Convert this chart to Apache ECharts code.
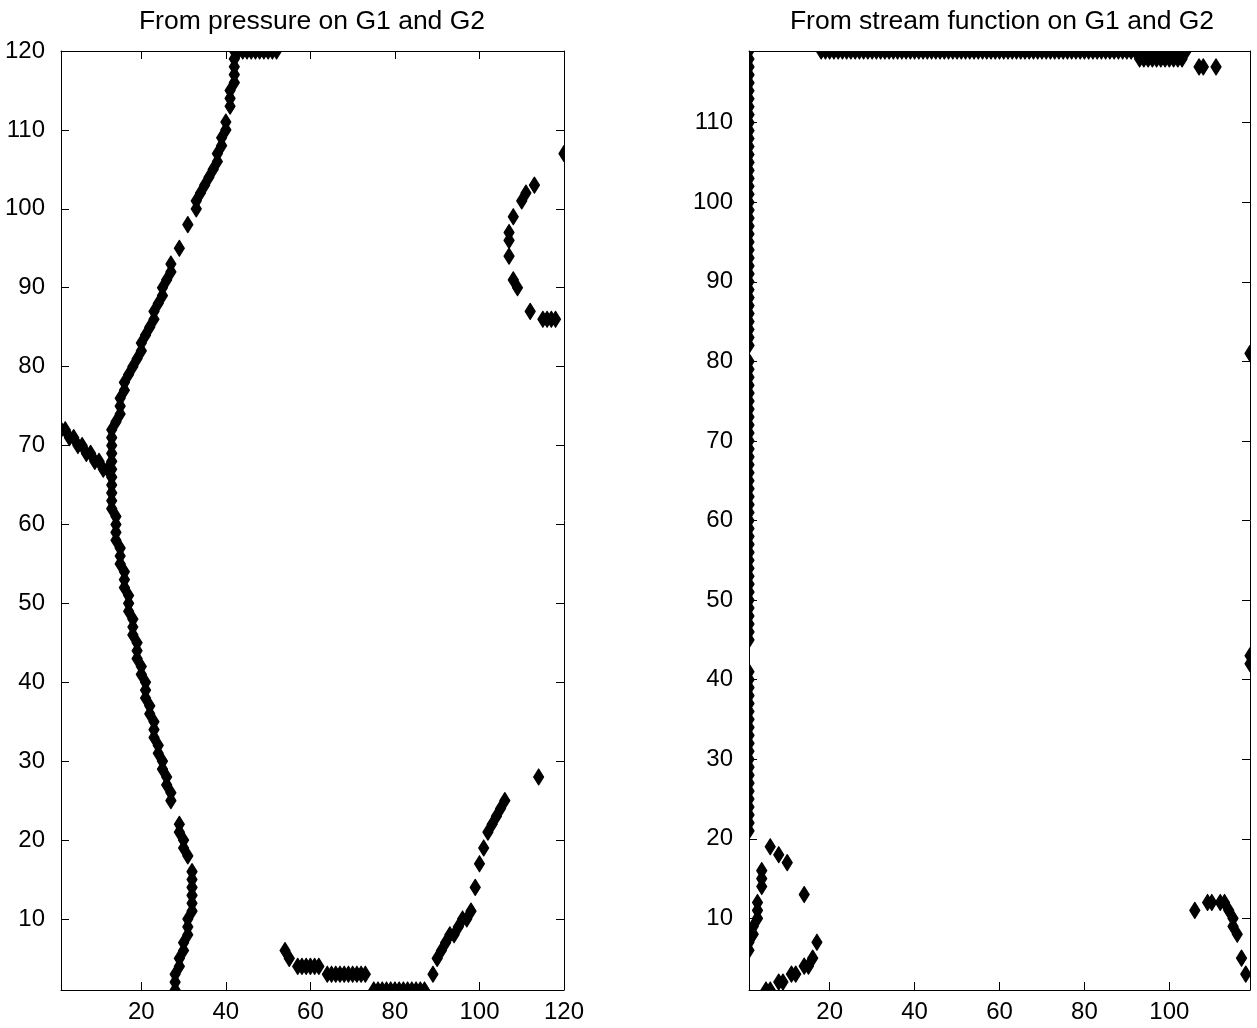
<!DOCTYPE html>
<html><head><meta charset="utf-8">
<script src="https://cdn.jsdelivr.net/npm/echarts@6/dist/echarts.min.js"></script>
<style>html,body{margin:0;padding:0;background:#fff}#c{width:1257px;height:1028px}</style>
</head><body><div id="c"></div>
<script>
const leftTitle = 'From pressure on G1 and G2';
const rightTitle = 'From stream function on G1 and G2';
const leftXTicks = [20,40,60,80,100,120];
const leftYTicks = [10,20,30,40,50,60,70,80,90,100,110,120];
const rightXTicks = [20,40,60,80,100];
const rightYTicks = [10,20,30,40,50,60,70,80,90,100,110];

// ---- left panel points [x, y] ----
const leftTopBar = [[42,120],[43,120],[44,120],[45,120],[46,120],[47,120],[48,120],[49,120],[50,120],[51,120],[52,120]];
const leftUpperCurve = [[42,119],[42,118],[42,117],[42,116],[41,115],[41,114],[41,113],[40,111],[40,110],[39,109],[39,108],[38,107],[38,106],[37,105],[36,104],[35,103],[34,102],[33,101],[33,100],[31,98],[29,95],
  [27,93],[27,92],[26,91],[25,90],[25,89],[24,88],[23,87],[23,86],[22,85],[21,84],[20,83],[20,82],[19,81],[18,80],[17,79],[16,78],[16,77],[15,76],[15,75],[15,74],[14,73]];
const leftBranch = [[1,72],[2,72],[3,71],[4,71],[5,70],[6,70],[7,69],[8,69],[9,68],[10,68],[11,67],[12,67]];
const leftLowerCurve = [[13,72],[13,71],[13,70],[13,69],[13,68],[13,67],[13,66],[13,65],[13,64],[13,63],[13,62],
  [14,61],[14,60],[14,59],[14,58],[15,57],[15,56],[15,55],[16,54],[16,53],[16,52],[17,51],[17,50],[17,49],
  [18,48],[18,47],[18,46],[19,45],[19,44],[19,43],[20,42],[20,41],[21,40],[21,39],[21,38],[22,37],[22,36],
  [23,35],[23,34],[23,33],[24,32],[24,31],[25,30],[25,29],[26,28],[26,27],[27,26],[27,25],
  [29,22],[29,21],[30,20],[30,19],[31,18],[32,16],[32,15],[32,14],[32,13],[32,12],[32,11],
  [31,10],[31,9],[31,8],[30,7],[30,6],[29,5],[29,4],[28,3],[28,2],[28,1]];
const leftBottomBars = [[54,6],[55,5],[57,4],[58,4],[59,4],[60,4],[61,4],[62,4],
  [64,3],[65,3],[66,3],[67,3],[68,3],[69,3],[70,3],[71,3],[72,3],[73,3],
  [75,1],[76,1],[77,1],[78,1],[79,1],[80,1],[81,1],[82,1],[83,1],[84,1],[85,1],[86,1],[87,1]];
const leftRightChain = [[89,3],[90,5],[91,6],[92,7],[93,8],[94,8],[95,9],[96,10],[97,10],[98,11],[99,14],[100,17],[101,19],[102,21],[103,22],[104,23],[105,24],[106,25],[114,28]];
const leftArc = [[120,107],[113,103],[111,102],[110,101],[108,99],[107,97],[107,96],[107,94],[108,91],[109,90],[112,87],[115,86],[116,86],[117,86],[118,86]];

// ---- right panel points ----
const rightEdgeLeftY = [21,22,23,24,25,26,27,28,29,30,31,32,33,34,35,36,37,38,39,40,41,
  45,46,47,48,49,50,51,52,53,54,55,56,57,58,59,60,61,62,63,64,65,66,67,68,69,70,71,72,73,74,75,76,77,78,79,80,
  82,83,84,85,86,87,88,89,90,91,92,93,94,95,96,97,98,99,100,101,102,103,104,105,106,107,108,109,110,111,112,113,114,115,116,117,118,119];
const rightTopBarX = [18,19,20,21,22,23,24,25,26,27,28,29,30,31,32,33,34,35,36,37,38,39,40,41,42,43,44,45,46,47,48,49,50,
  51,52,53,54,55,56,57,58,59,60,61,62,63,64,65,66,67,68,69,70,71,72,73,74,75,76,77,78,79,80,81,82,83,84,85,86,87,88,89,90,
  91,92,93,94,95,96,97,98,99,100,101,102,103,104];
const rightTopLower = [[93,118],[94,118],[95,118],[96,118],[97,118],[98,118],[99,118],[100,118],[101,118],[102,118],[103,118],[107,117],[108,117],[111,117]];
const rightBottomLeft = [[1,6],[1,7],[2,8],[2,9],[3,10],[3,11],[3,12],[4,14],[4,15],[4,16],
  [6,19],[8,18],[10,17],[14,13],[17,7],[16,5],[14,4],[15,4],[11,3],[12,3],[8,2],[9,2],[5,1],[6,1]];
const rightEdgeRight = [[119,81],[119,42],[119,43]];
const rightBottomRight = [[106,11],[109,12],[110,12],[112,12],[113,12],[114,11],[115,10],[115,9],[116,8],[117,5],[118,3]];

const leftData = [].concat(leftTopBar, leftUpperCurve, leftBranch, leftLowerCurve, leftBottomBars, leftRightChain, leftArc);
const rightData = [].concat(rightEdgeLeftY.map(y => [1, y]), rightTopBarX.map(x => [x, 119]), rightTopLower, rightBottomLeft, rightEdgeRight, rightBottomRight);

const FONT = 'Liberation Sans, Arial, Helvetica, sans-serif';
const black = '#000';

function xAx(grid, min, max, ticks, pos, showLabel) {
  return {
    gridIndex: grid, type: 'value', min: min, max: max, position: pos,
    axisLine: {show: true, onZero: false, lineStyle: {color: black, width: 1}},
    axisTick: {show: true, inside: true, length: 8, customValues: ticks, lineStyle: {color: black, width: 1}},
    axisLabel: {show: showLabel, customValues: ticks, color: black, fontSize: 24, fontFamily: FONT, margin: 10},
    splitLine: {show: false}
  };
}
function yAx(grid, min, max, ticks, pos, showLabel) {
  return {
    gridIndex: grid, type: 'value', min: min, max: max, position: pos,
    axisLine: {show: true, onZero: false, lineStyle: {color: black, width: 1}},
    axisTick: {show: true, inside: true, length: 8, customValues: ticks, lineStyle: {color: black, width: 1}},
    axisLabel: {show: showLabel, customValues: ticks, color: black, fontSize: 24, fontFamily: FONT, margin: 16},
    splitLine: {show: false}
  };
}
function diamonds(axisIdx, pts) {
  return {
    type: 'custom', coordinateSystem: 'cartesian2d', xAxisIndex: axisIdx, yAxisIndex: axisIdx,
    clip: true, silent: true, animation: false, data: pts,
    renderItem: function (params, api) {
      const c = api.coord([api.value(0), api.value(1)]);
      const w = 5, h = 8;
      return {type: 'polygon', shape: {points: [[c[0], c[1] - h], [c[0] + w, c[1]], [c[0], c[1] + h], [c[0] - w, c[1]]]},
              style: {fill: black, stroke: black, lineWidth: 1.2, lineJoin: 'round'}};
    }
  };
}

const chart = echarts.init(document.getElementById('c'), null, {renderer: 'canvas'});
const titleStyle = {fontSize: 26.5, fontWeight: 'normal', color: black, fontFamily: FONT};
chart.setOption({
  backgroundColor: '#fff',
  animation: false,
  title: [
    {text: leftTitle, left: 312, top: 8, padding: 0, textAlign: 'center', textStyle: titleStyle},
    {text: rightTitle, left: 1002, top: 8, padding: 0, textAlign: 'center', textStyle: titleStyle}
  ],
  grid: [
    {left: 61, top: 51, width: 503, height: 939},
    {left: 749, top: 51, width: 501, height: 939}
  ],
  xAxis: [
    xAx(0, 1, 120, leftXTicks, 'bottom', true),
    xAx(0, 1, 120, leftXTicks, 'top', false),
    xAx(1, 1, 119, rightXTicks, 'bottom', true),
    xAx(1, 1, 119, rightXTicks, 'top', false)
  ],
  yAxis: [
    yAx(0, 1, 120, leftYTicks, 'left', true),
    yAx(0, 1, 120, leftYTicks, 'right', false),
    yAx(1, 1, 119, rightYTicks, 'left', true),
    yAx(1, 1, 119, rightYTicks, 'right', false)
  ],
  series: [
    diamonds(0, leftData),
    diamonds(2, rightData)
  ]
});
</script>
</body></html>
